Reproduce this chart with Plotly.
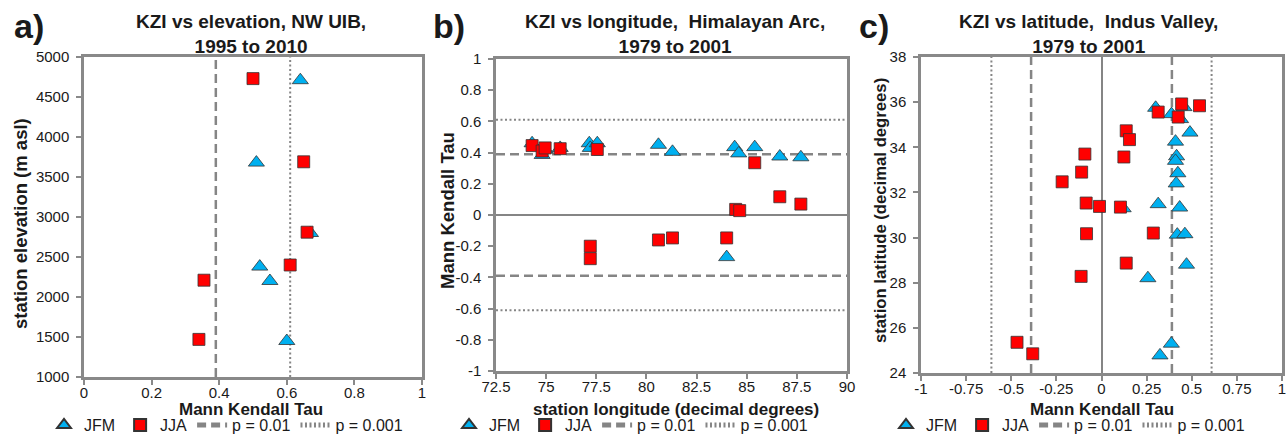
import plotly.graph_objects as go

W, H = 1288, 435

# ---------------- data ----------------
# panel a: KZI vs elevation, NW UIB
a_jfm_tau = [0.64, 0.51, 0.67, 0.52, 0.55, 0.60]
a_jfm_elev = [4710, 3680, 2800, 2380, 2200, 1450]
a_jja_tau = [0.50, 0.65, 0.66, 0.61, 0.355, 0.34]
a_jja_elev = [4730, 3690, 2810, 2400, 2210, 1470]

# panel b: KZI vs longitude, Himalayan Arc
b_jfm_lon = [74.3, 74.8, 74.95, 75.7, 77.15, 77.2, 77.55, 80.6, 81.3, 84.0, 84.4, 84.6, 85.4, 86.65, 87.7]
b_jfm_tau = [0.46, 0.385, 0.42, 0.43, 0.46, 0.43, 0.46, 0.45, 0.405, -0.27, 0.435, 0.395, 0.435, 0.375, 0.37]
b_jja_lon = [74.3, 74.8, 74.95, 75.7, 77.55, 77.2, 77.2, 80.6, 81.3, 84.0, 84.45, 84.65, 85.4, 86.65, 87.7]
b_jja_tau = [0.445, 0.41, 0.43, 0.425, 0.42, -0.20, -0.28, -0.16, -0.147, -0.147, 0.036, 0.028, 0.335, 0.117, 0.07]

# panel c: KZI vs latitude, Indus Valley
c_jfm_tau = [0.30, 0.457, 0.388, 0.438, 0.49, 0.41, 0.416, 0.41, 0.423, 0.414, 0.314, 0.433, 0.12, 0.42, 0.462, 0.471, 0.257, 0.387, 0.324]
c_jfm_lat = [35.75, 35.78, 35.47, 35.25, 34.65, 34.25, 33.6, 33.4, 32.85, 32.4, 31.48, 31.33, 31.3, 30.13, 30.15, 28.8, 28.2, 25.3, 24.78]
c_jja_tau = [0.444, 0.543, 0.314, 0.425, 0.137, 0.155, -0.092, 0.124, -0.11, -0.218, -0.085, -0.011, 0.105, -0.083, 0.287, 0.137, -0.113, -0.468, -0.381]
c_jja_lat = [35.92, 35.84, 35.56, 35.34, 34.73, 34.34, 33.70, 33.57, 32.90, 32.47, 31.53, 31.38, 31.35, 30.17, 30.20, 28.87, 28.28, 25.36, 24.85]

# significance thresholds of Mann Kendall Tau
p01 = 0.39
p001 = 0.61

# axis ranges / ticks
a_xrange, a_yrange = [0, 1], [1000, 5000]
a_xticks = [0, 0.2, 0.4, 0.6, 0.8, 1]
a_xtext = ["0", "0.2", "0.4", "0.6", "0.8", "1"]
a_yticks = [1000, 1500, 2000, 2500, 3000, 3500, 4000, 4500, 5000]
a_ytext = [str(v) for v in a_yticks]

b_xrange, b_yrange = [72.5, 90], [-1, 1]
b_xticks = [72.5, 75, 77.5, 80, 82.5, 85, 87.5, 90]
b_xtext = ["72.5", "75", "77.5", "80", "82.5", "85", "87.5", "90"]
b_yticks = [-1, -0.8, -0.6, -0.4, -0.2, 0, 0.2, 0.4, 0.6, 0.8, 1]
b_ytext = ["-1", "-0.8", "-0.6", "-0.4", "-0.2", "0", "0.2", "0.4", "0.6", "0.8", "1"]

c_xrange, c_yrange = [-1, 1], [24, 38]
c_xticks = [-1, -0.75, -0.5, -0.25, 0, 0.25, 0.5, 0.75, 1]
c_xtext = ["-1", "-0.75", "-0.5", "-0.25", "0", "0.25", "0.5", "0.75", "1"]
c_yticks = [24, 26, 28, 30, 32, 34, 36, 38]
c_ytext = [str(v) for v in c_yticks]

titles = ["<b>KZI vs elevation, NW UIB,<br>1995 to 2010</b>",
          "<b>KZI vs longitude,&nbsp; Himalayan Arc,<br>1979 to 2001</b>",
          "<b>KZI vs latitude,&nbsp; Indus Valley,<br>1979 to 2001</b>"]
xtitles = ["Mann Kendall Tau", "station longitude (decimal degrees)", "Mann Kendall Tau"]
ytitles = ["station elevation (m asl)", "Mann Kendall Tau", "station latitude (decimal degrees)"]
labels = ["a)", "b)", "c)"]

# ---------------- style ----------------
FONT = "Liberation Sans, Arial, sans-serif"
TXT = "#1a1a1a"
AXC = "#898989"
LINEC = "#858585"
BLUE = "#00B0F0"
RED = "#FF0000"
EDGE = "#333333"

# plot-area pixel boxes (left, right, top, bottom)
boxes = [(84, 422, 57, 377), (496, 847, 59, 371), (921, 1282, 57, 373)]

fig = go.Figure()

def dom(b):
    l, r, t, bt = b
    return [l / W, r / W], [1 - bt / H, 1 - t / H]

def vline_xy(vals, yr):
    xs, ys = [], []
    for v in vals:
        xs += [v, v, None]
        ys += [yr[0], yr[1], None]
    return xs, ys

def hline_xy(vals, xr):
    xs, ys = [], []
    for v in vals:
        xs += [xr[0], xr[1], None]
        ys += [v, v, None]
    return xs, ys

panels = [
    dict(jfm=(a_jfm_tau, a_jfm_elev), jja=(a_jja_tau, a_jja_elev),
         d01=vline_xy([p01], a_yrange), d001=vline_xy([p001], a_yrange)),
    dict(jfm=(b_jfm_lon, b_jfm_tau), jja=(b_jja_lon, b_jja_tau),
         d01=hline_xy([p01, -p01], b_xrange), d001=hline_xy([p001, -p001], b_xrange)),
    dict(jfm=(c_jfm_tau, c_jfm_lat), jja=(c_jja_tau, c_jja_lat),
         d01=vline_xy([p01, -p01], c_yrange), d001=vline_xy([p001, -p001], c_yrange)),
]

for i, p in enumerate(panels):
    sfx = "" if i == 0 else str(i + 1)
    xa, ya = "x" + sfx, "y" + sfx
    lg = "legend" + sfx
    fig.add_trace(go.Scatter(x=p["d01"][0], y=p["d01"][1], mode="lines", name="p = 0.01",
                             line=dict(color=LINEC, width=2.5, dash="9px,5px"),
                             xaxis=xa, yaxis=ya, legend=lg, legendrank=3, hoverinfo="skip"))
    fig.add_trace(go.Scatter(x=p["d001"][0], y=p["d001"][1], mode="lines", name="p = 0.001",
                             line=dict(color=LINEC, width=2, dash="2px,2.5px"),
                             xaxis=xa, yaxis=ya, legend=lg, legendrank=4, hoverinfo="skip"))
    fig.add_trace(go.Scatter(x=p["jfm"][0], y=p["jfm"][1], mode="markers", name="JFM",
                             marker=dict(symbol="triangle-up", size=14, color=BLUE,
                                         line=dict(color=EDGE, width=0.8)),
                             xaxis=xa, yaxis=ya, legend=lg, legendrank=1))
    fig.add_trace(go.Scatter(x=p["jja"][0], y=p["jja"][1], mode="markers", name="JJA",
                             marker=dict(symbol="square", size=12, color=RED,
                                         line=dict(color=EDGE, width=0.8)),
                             xaxis=xa, yaxis=ya, legend=lg, legendrank=2))

ranges = [(a_xrange, a_yrange, a_xticks, a_xtext, a_yticks, a_ytext),
          (b_xrange, b_yrange, b_xticks, b_xtext, b_yticks, b_ytext),
          (c_xrange, c_yrange, c_xticks, c_xtext, c_yticks, c_ytext)]

layout = dict(width=W, height=H, margin=dict(l=0, r=0, t=0, b=0, autoexpand=False), autosize=False,
              paper_bgcolor="white", plot_bgcolor="white",
              font=dict(family=FONT, color=TXT, size=15), showlegend=True)

axis_common = dict(showline=True, mirror=True, linecolor=AXC, linewidth=2.5,
                   showgrid=False, ticks="outside", ticklen=5, tickwidth=2, tickcolor=AXC,
                   tickfont=dict(family=FONT, size=15, color=TXT),
                   fixedrange=True, automargin=False)

legend_x = [44, 449, 886]
annotations = []
for i in range(3):
    sfx = "" if i == 0 else str(i + 1)
    xr, yr, xt, xtt, yt, ytt = ranges[i]
    xd, yd = dom(boxes[i])
    layout["xaxis" + sfx] = dict(axis_common, domain=xd, range=xr, tickvals=xt, ticktext=xtt,
                                  anchor="y" + sfx, ticklabelstandoff=-5,
                                  zeroline=(i == 2), zerolinecolor=LINEC, zerolinewidth=2)
    layout["yaxis" + sfx] = dict(axis_common, domain=yd, range=yr, tickvals=yt, ticktext=ytt,
                                  anchor="x" + sfx, ticklabelstandoff=4,
                                  zeroline=(i == 1), zerolinecolor=LINEC, zerolinewidth=2)
    layout["legend" + sfx] = dict(orientation="h", x=legend_x[i] / W, y=1 - 425 / H,
                                   xanchor="left", yanchor="middle", bgcolor="rgba(0,0,0,0)",
                                   font=dict(family=FONT, size=16, color=TXT),
                                   traceorder="normal", itemsizing="constant")

title_cx = [251, 675, 1088]
xt_cx = [251, 676, 1102]
yt_cx = [20, 447, 880]
yt_cy = [224, 211, 211]
yt_size = [18.5, 18.5, 16.7]
lab_x = [12, 431, 857]
for i in range(3):
    annotations.append(dict(text=titles[i], x=title_cx[i] / W, y=1 - 33.5 / H, xref="paper", yref="paper",
                            showarrow=False, xanchor="center", yanchor="middle",
                            font=dict(family=FONT, size=19, color=TXT)))
    annotations.append(dict(text="<b>" + xtitles[i] + "</b>", x=xt_cx[i] / W, y=1 - 409 / H,
                            xref="paper", yref="paper", showarrow=False, xanchor="center",
                            yanchor="middle", font=dict(family=FONT, size=17, color=TXT)))
    annotations.append(dict(text="<b>" + ytitles[i] + "</b>", x=yt_cx[i] / W, y=1 - yt_cy[i] / H,
                            xref="paper", yref="paper", showarrow=False, xanchor="center",
                            yanchor="middle", textangle=-90,
                            font=dict(family=FONT, size=yt_size[i], color=TXT)))
    annotations.append(dict(text="<b>" + labels[i] + "</b>", x=lab_x[i] / W, y=1 - 26 / H,
                            xref="paper", yref="paper", showarrow=False, xanchor="left",
                            yanchor="middle", font=dict(family=FONT, size=34, color=TXT)))

layout["annotations"] = annotations
fig.update_layout(**layout)
fig.write_html("out.html")
